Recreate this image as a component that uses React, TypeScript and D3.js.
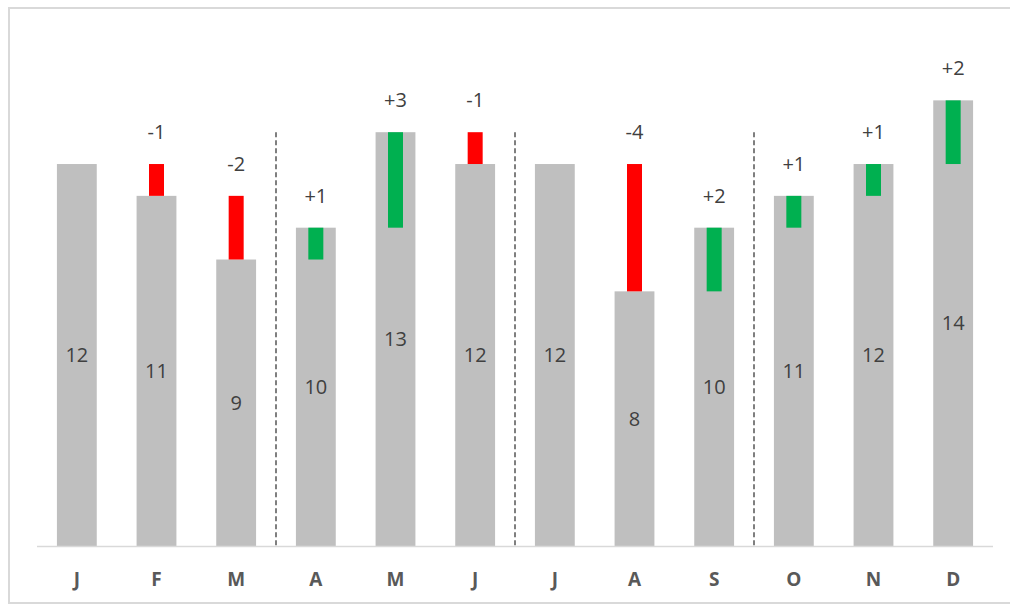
import React, { useEffect, useRef } from 'react';
import * as d3 from 'd3';

const months = ['J', 'F', 'M', 'A', 'M', 'J', 'J', 'A', 'S', 'O', 'N', 'D'];
const values = [12, 11, 9, 10, 13, 12, 12, 8, 10, 11, 12, 14];
// quarter separators sit after these month indexes
const quarterEnds = [2, 5, 8];

const W = 1010;
const H = 605;

const App: React.FC = () => {
  const svgRef = useRef<SVGSVGElement>(null);

  useEffect(() => {
    if (!svgRef.current) return;
    const svg = d3.select(svgRef.current);
    svg.selectAll('*').remove();

    const font = '"Open Sans", "Liberation Sans", sans-serif';
    const textColor = '#404040';

    // chart frame (right edge runs off the picture)
    svg.append('path')
      .attr('d', 'M1012,8 H9 V603 H1012')
      .attr('fill', 'none')
      .attr('stroke', '#d9d9d9')
      .attr('stroke-width', 2);

    const x = d3.scaleBand<number>()
      .domain(d3.range(months.length))
      .range([37, 993])
      .paddingInner(0.5)
      .paddingOuter(0.25);

    const y = d3.scaleLinear().domain([0, 16]).range([546, 36.7]);

    const data = values.map((v, i) => ({
      i,
      value: v,
      prev: i > 0 ? values[i - 1] : v,
      delta: i > 0 ? v - values[i - 1] : 0
    }));

    // gray bars
    svg.append('g').selectAll('rect')
      .data(data)
      .join('rect')
      .attr('x', d => x(d.i)!)
      .attr('width', x.bandwidth())
      .attr('y', d => y(d.value))
      .attr('height', d => y(0) - y(d.value))
      .attr('fill', '#bfbfbf');

    // delta bars
    const deltaW = 15;
    const changes = data.filter(d => d.delta !== 0);
    svg.append('g').selectAll('rect')
      .data(changes)
      .join('rect')
      .attr('x', d => x(d.i)! + x.bandwidth() / 2 - deltaW / 2)
      .attr('width', deltaW)
      .attr('y', d => y(Math.max(d.value, d.prev)))
      .attr('height', d => Math.abs(y(d.value) - y(d.prev)))
      .attr('fill', d => (d.delta > 0 ? '#00b050' : '#ff0000'));

    // axis line
    svg.append('line')
      .attr('x1', 37).attr('x2', 993)
      .attr('y1', y(0) + 0.5).attr('y2', y(0) + 0.5)
      .attr('stroke', '#d9d9d9')
      .attr('stroke-width', 1.5);

    // quarter separators
    const step = x.step();
    svg.append('g').selectAll('line')
      .data(quarterEnds)
      .join('line')
      .attr('x1', d => x(d)! + x.bandwidth() + (step - x.bandwidth()) / 2)
      .attr('x2', d => x(d)! + x.bandwidth() + (step - x.bandwidth()) / 2)
      .attr('y1', y(13))
      .attr('y2', y(0) + 2)
      .attr('stroke', '#7f7f7f')
      .attr('stroke-width', 2)
      .attr('stroke-dasharray', '5,3');

    // value labels inside bars
    svg.append('g').selectAll('text')
      .data(data)
      .join('text')
      .attr('x', d => x(d.i)! + x.bandwidth() / 2)
      .attr('y', d => (y(0) + y(d.value)) / 2)
      .attr('dy', '0.35em')
      .attr('text-anchor', 'middle')
      .attr('font-family', font)
      .attr('font-size', 20)
      .attr('fill', textColor)
      .text(d => d.value);

    // delta labels
    svg.append('g').selectAll('text')
      .data(changes)
      .join('text')
      .attr('x', d => x(d.i)! + x.bandwidth() / 2)
      .attr('y', d => y(Math.max(d.value, d.prev)) - 32)
      .attr('dy', '0.35em')
      .attr('text-anchor', 'middle')
      .attr('font-family', font)
      .attr('font-size', 20)
      .attr('fill', textColor)
      .text(d => (d.delta > 0 ? `+${d.delta}` : `${d.delta}`));

    // month labels
    svg.append('g').selectAll('text')
      .data(months)
      .join('text')
      .attr('x', (_, i) => x(i)! + x.bandwidth() / 2)
      .attr('y', 579)
      .attr('dy', '0.35em')
      .attr('text-anchor', 'middle')
      .attr('font-family', font)
      .attr('font-size', 19)
      .attr('font-weight', 'bold')
      .attr('fill', '#595959')
      .text(d => d);
  }, []);

  return (
    <div style={{ position: 'absolute', left: 0, top: 0, width: W, height: H, background: '#fff', overflow: 'hidden' }}>
      <svg ref={svgRef} width={W} height={H} style={{ display: 'block' }} />
    </div>
  );
};

export default App;
